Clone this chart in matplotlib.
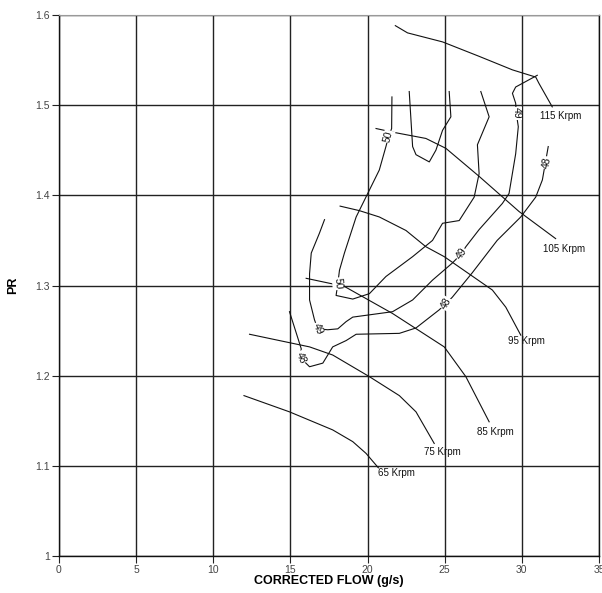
import numpy as np
import matplotlib.pyplot as plt

plt.rcParams['font.family'] = ['Liberation Sans', 'DejaVu Sans']

# speed lines (corrected flow g/s, pressure ratio)
speeds = ['65 Krpm', '75 Krpm', '85 Krpm', '95 Krpm', '105 Krpm', '115 Krpm']
speed_x = [
    [11.99, 14.94, 17.74, 19.04, 19.90, 20.70],
    [12.35, 14.29, 16.24, 17.74, 20.12, 22.06, 23.14, 24.32],
    [16.02, 18.50, 21.62, 24.97, 26.37, 27.88],
    [18.22, 19.47, 20.76, 22.49, 23.78, 24.97, 28.09, 28.96, 29.93],
    [20.55, 21.62, 23.78, 25.08, 27.23, 29.82, 32.19],
    [21.80, 22.59, 24.86, 27.23, 29.39, 30.90, 31.11, 31.97],
]
speed_y = [
    [1.178, 1.160, 1.140, 1.127, 1.114, 1.098],
    [1.246, 1.239, 1.232, 1.223, 1.199, 1.178, 1.160, 1.125],
    [1.308, 1.299, 1.269, 1.232, 1.199, 1.149],
    [1.388, 1.383, 1.376, 1.361, 1.343, 1.332, 1.295, 1.276, 1.245],
    [1.474, 1.470, 1.463, 1.452, 1.421, 1.382, 1.352],
    [1.588, 1.580, 1.570, 1.554, 1.539, 1.531, 1.524, 1.498],
]
speed_label_xy = [(21.87, 1.092), (24.82, 1.115), (28.31, 1.138),
                  (30.27, 1.238), (32.73, 1.341), (32.52, 1.488)]

# efficiency contours
eff48_x = [31.71, 31.33, 30.90, 29.93, 28.40, 26.78, 25.49, 25.08, 24.64, 23.14,
           22.06, 19.26, 18.61, 17.74, 17.10, 16.24, 15.65, 15.70, 14.94]
eff48_y = [1.454, 1.417, 1.398, 1.376, 1.350, 1.314, 1.287, 1.280, 1.273, 1.253,
           1.247, 1.246, 1.239, 1.232, 1.214, 1.210, 1.220, 1.230, 1.271]

eff49_x = [31.00, 29.60, 29.39, 29.60, 29.64, 29.77, 29.60, 29.17, 28.74, 27.23,
           26.37, 26.07, 25.50, 24.21, 22.92, 21.62, 19.04, 18.61, 18.07, 17.42,
           16.77, 16.56, 16.24, 16.24, 16.35, 16.88, 17.21]
eff49_y = [1.533, 1.520, 1.513, 1.502, 1.491, 1.476, 1.446, 1.402, 1.391, 1.362,
           1.343, 1.335, 1.325, 1.306, 1.284, 1.271, 1.265, 1.260, 1.252, 1.251,
           1.252, 1.262, 1.284, 1.313, 1.336, 1.358, 1.373]

eff50_x = [21.58, 21.56, 21.36, 21.19, 20.76, 20.01, 19.26, 18.50, 18.18, 18.07,
           17.96, 19.04, 20.12, 21.19, 22.92, 24.21, 24.86, 25.94, 26.91, 27.23,
           27.12, 27.88, 27.34]
eff50_y = [1.509, 1.474, 1.465, 1.454, 1.428, 1.402, 1.376, 1.336, 1.317, 1.302,
           1.289, 1.285, 1.291, 1.310, 1.332, 1.350, 1.369, 1.372, 1.398, 1.424,
           1.456, 1.487, 1.515]

eff51_x = [22.70, 22.92, 23.14, 24.00, 24.43, 24.86, 25.40, 25.29]
eff51_y = [1.515, 1.454, 1.445, 1.437, 1.450, 1.472, 1.487, 1.515]

# contour labels: text, x, y, rotation
eff_labels = [
    ('50', 21.36, 1.465, 75), ('50', 18.07, 1.302, -85),
    ('49', 29.64, 1.491, -90), ('49', 26.07, 1.335, 55), ('49', 16.77, 1.252, -65),
    ('48', 31.64, 1.436, 80), ('48', 25.08, 1.280, 60), ('48', 15.65, 1.220, -65),
]

xticks = [0, 5, 10, 15, 20, 25, 30, 35]
yticks = [1.0, 1.1, 1.2, 1.3, 1.4, 1.5, 1.6]
ytick_labels = ['1', '1.1', '1.2', '1.3', '1.4', '1.5', '1.6']

fig = plt.figure(figsize=(6.02, 5.93), dpi=100)
ax = fig.add_axes([0.098, 0.062, 0.897, 0.913])

line_kw = dict(color='#111111', lw=0.8)
for sx, sy in zip(speed_x, speed_y):
    ax.plot(sx, sy, **line_kw)
for ex, ey in [(eff48_x, eff48_y), (eff49_x, eff49_y),
               (eff50_x, eff50_y), (eff51_x, eff51_y)]:
    ax.plot(ex, ey, **line_kw)

for name, (lx, ly) in zip(speeds, speed_label_xy):
    ax.text(lx, ly, name, fontsize=7, ha='center', va='center', color='#111111')

for txt, lx, ly, rot in eff_labels:
    ax.text(lx, ly, txt, fontsize=7.5, ha='center', va='center', rotation=rot,
            color='#111111', zorder=5,
            bbox=dict(boxstyle='square,pad=0.05', fc='white', ec='none'))

ax.set_xlim(0, 35)
ax.set_ylim(1.0, 1.6)
ax.set_xticks(xticks)
ax.set_yticks(yticks)
ax.set_yticklabels(ytick_labels)
ax.grid(True, color='#222222', lw=1.0)
ax.set_axisbelow(True)
ax.tick_params(direction='out', length=5, width=0.8, color='#222222',
               labelsize=7.5, labelcolor='#444444', pad=1.5)

for side in ['left', 'bottom', 'right']:
    ax.spines[side].set_color('#111111')
    ax.spines[side].set_linewidth(1.0)
ax.spines['top'].set_color('#999999')

ax.set_xlabel('CORRECTED FLOW (g/s)', fontsize=9, fontweight='bold', labelpad=0)
ax.set_ylabel('PR', fontsize=9, fontweight='bold', labelpad=12)

plt.savefig('out.png', dpi=100)
